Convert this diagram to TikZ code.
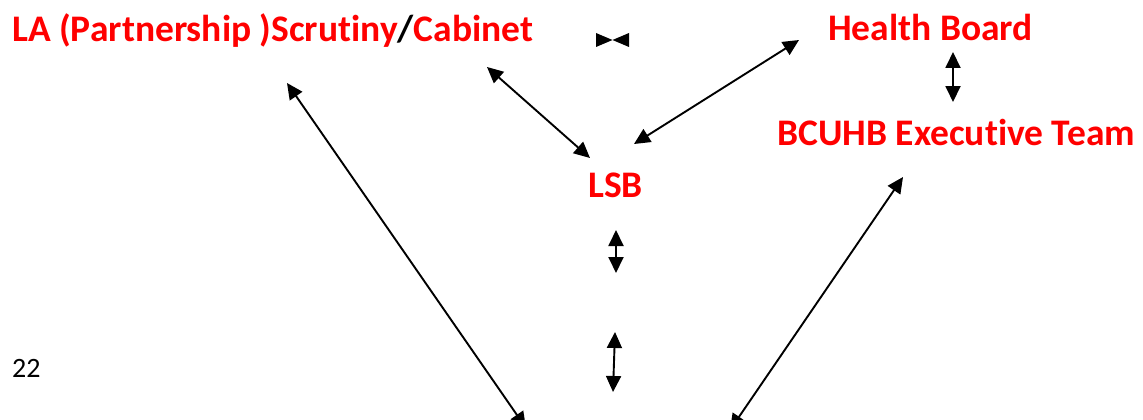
\documentclass[tikz,border=0pt]{standalone}
\usepackage{fontspec}
\setmainfont[RawFeature={-liga;-clig;-calt;-dlig}]{Carlito}
\usetikzlibrary{arrows.meta}
\tikzset{
  lbl/.style={anchor=base west, inner sep=0pt, text=red, font=\bfseries\fontsize{37.5}{40}\selectfont},
  dbl/.style={line width=1.9pt, {Triangle[length=16pt,width=15pt]}-{Triangle[length=16pt,width=15pt]}},
  tip/.style={fill=black}
}
\begin{document}
\begin{tikzpicture}[x=1pt,y=-1pt]
\useasboundingbox (0,0) rectangle (1143,420);
\clip (0,0) rectangle (1143,420);
\node[lbl] (la) at (12,42) {LA (Partnership )Scrut{}iny\textcolor{black}{/}Cabinet};
\node[lbl] (hb) at (828,41) {Health Board};
\node[lbl] (bc) at (777,145) {BCUHB Execut{}ive Team};
\node[lbl] (lsb) at (588,197) {LSB};
\node[anchor=base west, inner sep=0pt, font=\fontsize{28}{30}\selectfont] (pg) at (12,377) {22};
% arrow end points
\coordinate (a1) at (487,67); \coordinate (a2) at (590,158);
\coordinate (b1) at (799,40); \coordinate (b2) at (634,144);
\coordinate (c1) at (953,52); \coordinate (c2) at (953,102);
\coordinate (d1) at (616,230); \coordinate (d2) at (616,273);
\coordinate (e1) at (615,332); \coordinate (e2) at (613,392);
\coordinate (f1) at (287,83); \coordinate (f2) at (526,428);
\coordinate (g1) at (903,177); \coordinate (g2) at (730,430);
\draw[dbl] (a1) -- (a2);
\draw[dbl] (b1) -- (b2);
\draw[dbl] (c1) -- (c2);
\draw[dbl] (d1) -- (d2);
\draw[dbl] (e1) -- (e2);
\draw[dbl] (f1) -- (f2);
\draw[dbl] (g1) -- (g2);
% bow tie
\coordinate (bt) at (612.5,40);
\fill[tip] (596,33) -- (bt) -- (596,47) -- cycle;
\fill[tip] (629,33) -- (bt) -- (629,47) -- cycle;
\end{tikzpicture}
\end{document}
